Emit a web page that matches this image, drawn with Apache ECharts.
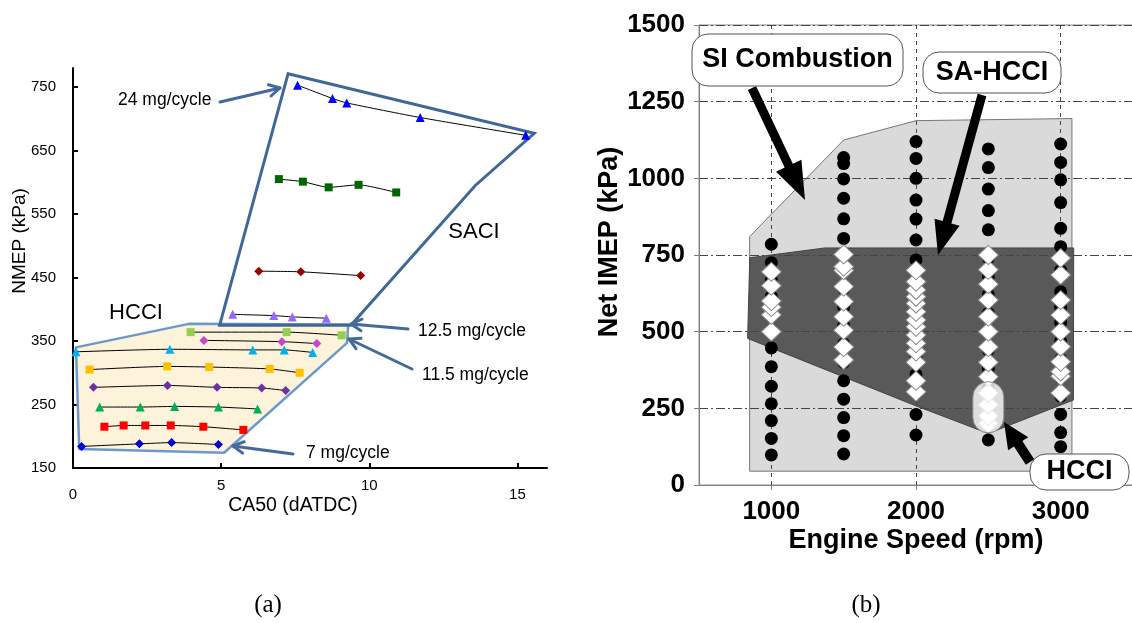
<!DOCTYPE html>
<html>
<head>
<meta charset="utf-8">
<title>NMEP vs CA50 / Net IMEP vs engine speed</title>
<script src="https://cdn.jsdelivr.net/npm/echarts@6.0.0/dist/echarts.min.js"></script>
<style>
  html, body { margin: 0; padding: 0; background: #fff; }
  #chart { width: 1132px; height: 623px; }
</style>
</head>
<body>
<div id="chart"></div>
<script>
// ---- (a) NMEP vs CA50, one trace per fuelling rate ----
const saci24 = [[7.58, 753], [8.76, 732], [9.24, 725], [11.72, 702], [15.28, 674]];
const saciGreen = [[6.95, 605], [7.76, 601], [8.63, 592], [9.64, 596], [10.91, 584]];
const saciRed = [[6.27, 460], [7.69, 459], [9.71, 453]];
const saci125 = [[5.39, 392], [6.78, 390], [7.40, 388], [8.55, 386]];
const hcci115 = [[3.97, 364], [7.21, 364], [9.07, 359]];
const hcciPink = [[4.42, 351], [7.05, 349], [8.23, 346]];
const hcciCyan = [[0.10, 333], [3.27, 337], [6.07, 336], [7.13, 336], [8.09, 332]];
const hcciOrange = [[0.56, 305], [3.18, 310], [4.60, 309], [6.64, 306], [7.65, 300]];
const hcciPurple = [[0.69, 277], [3.19, 280], [4.86, 277], [6.37, 276], [7.18, 272]];
const hcciGreen = [[0.90, 246], [2.27, 246], [3.43, 247], [4.91, 246], [6.23, 243]];
const hcciRed = [[1.06, 215], [1.71, 217], [2.44, 217], [3.30, 217], [4.40, 215], [5.75, 210]];
const hcci7 = [[0.29, 184], [2.24, 188], [3.33, 190], [4.91, 187]];
const saciRegion = [[7.26, 771], [15.57, 677], [13.58, 595], [9.38, 375], [4.95, 375]];
const hcciRegion = [[0.10, 340], [3.91, 377], [9.29, 376], [9.25, 347], [5.10, 174], [0.21, 180]];
const ca50Ticks = [0, 5, 10, 15];
const nmepTicks = [150, 250, 350, 450, 550, 650, 750];

// ---- (b) operating map, Net IMEP vs engine speed ----
const rpmTicks = [1000, 2000, 3000];
const speeds = [1000, 1500, 2000, 2500, 3000];
const siRegion = [[850, 45], [850, 810], [1500, 1125], [2000, 1188], [3078, 1195], [3078, 45]];
const saRegion = [[836, 478], [851, 741], [1370, 773], [3090, 773], [3088, 277], [2500, 168], [2000, 258]];
const hcciSpan = [[2500, 170], [2500, 337]];
const si1000 = [98, 152, 210, 265, 322, 386, 447, 505, 560, 615, 670, 725, 785];
const si1500 = [101, 161, 220, 280, 340, 400, 460, 520, 580, 640, 700, 750, 804, 868, 935, 998, 1048, 1068];
const si2000 = [163, 230, 300, 360, 420, 480, 540, 600, 660, 734, 799, 867, 929, 1000, 1065, 1120];
const si2500 = [147, 200, 260, 320, 380, 440, 500, 560, 620, 680, 740, 832, 895, 965, 1035, 1096];
const si3000 = [125, 171, 230, 290, 350, 410, 470, 530, 580, 630, 700, 777, 837, 921, 995, 1052, 1112];
const sa1000 = [500, 555, 580, 600, 650, 695];
const sa1500 = [408, 450, 505, 549, 598, 647, 700, 712, 752];
const sa2000 = [304, 340, 400, 435, 462, 489, 516, 538, 565, 592, 614, 636, 663, 700];
const sa2500 = [200, 225, 262, 300, 353, 400, 450, 500, 549, 603, 655, 702, 750];
const sa3000 = [300, 355, 370, 402, 451, 500, 554, 603, 685, 740];

const FONT = '"Liberation Sans", Arial, sans-serif';
const chart = echarts.init(document.getElementById('chart'));

const siDots = [si1000, si1500, si2000, si2500, si3000].flatMap((col, i) => col.map(v => [speeds[i], v]));
const saDiamonds = [sa1000, sa1500, sa2000, sa2500, sa3000].flatMap((col, i) => col.map(v => [speeds[i], v]));

function region(idx, pts, style, z) {
  return {
    type: 'custom', xAxisIndex: idx, yAxisIndex: idx, z, silent: true, clip: false,
    data: [pts[0]],
    renderItem: (params, api) => ({
      type: 'polygon',
      shape: { points: pts.map(p => api.coord(p)) },
      style
    })
  };
}

function fuelLine(pts, symbol, color, size) {
  return {
    type: 'line', xAxisIndex: 0, yAxisIndex: 0, data: pts,
    symbol, symbolSize: size, smooth: 0.2,
    lineStyle: { color: '#000', width: 1 },
    itemStyle: { color, opacity: 1 },
    z: 5
  };
}

// open V arrow for panel (a)
function vArrow(x1, y1, x2, y2) {
  const a = Math.atan2(y2 - y1, x2 - x1), L = 12, s = 0.5;
  const st = { stroke: '#44699a', lineWidth: 3, fill: null, lineCap: 'round', lineJoin: 'round' };
  return [
    { type: 'line', z: 10, shape: { x1, y1, x2, y2 }, style: st },
    { type: 'polyline', z: 10, shape: { points: [
      [x2 - L * Math.cos(a - s), y2 - L * Math.sin(a - s)], [x2, y2],
      [x2 - L * Math.cos(a + s), y2 - L * Math.sin(a + s)]] }, style: st }
  ];
}

// filled block arrow for panel (b)
function blockArrow(x1, y1, x2, y2, w, hl, hw) {
  const len = Math.hypot(x2 - x1, y2 - y1), ux = (x2 - x1) / len, uy = (y2 - y1) / len;
  const px = -uy, py = ux, bx = x2 - ux * hl, by = y2 - uy * hl;
  return { type: 'polygon', z: 10, shape: { points: [
    [x1 + px * w, y1 + py * w], [bx + px * w, by + py * w], [bx + px * hw, by + py * hw], [x2, y2],
    [bx - px * hw, by - py * hw], [bx - px * w, by - py * w], [x1 - px * w, y1 - py * w]] },
    style: { fill: '#000' } };
}

function label(text, x, y, size, opts) {
  return Object.assign({ type: 'text', z: 11, x, y, style: {
    text, fontSize: size, fontFamily: FONT, fill: '#000', align: 'center', verticalAlign: 'middle',
    fontWeight: (opts && opts.bold) ? 'bold' : 'normal'
  } }, opts && opts.rotation ? { rotation: opts.rotation } : {});
}

function callout(text, x, y, w, h) {
  return [
    { type: 'rect', z: 11, shape: { x, y, width: w, height: h, r: 16 }, style: { fill: '#fff', stroke: '#555', lineWidth: 1 } },
    { type: 'text', z: 12, x: x + w / 2, y: y + h / 2, style: { text, fontSize: 27, fontWeight: 'bold', fontFamily: FONT, fill: '#000', align: 'center', verticalAlign: 'middle' } }
  ];
}

const leftText = (text, x, y) => ({ type: 'text', z: 11, x, y, style: { text, fontSize: 17.5, fontFamily: FONT, fill: '#000', align: 'left', verticalAlign: 'middle' } });

const graphic = [
  leftText('24 mg/cycle', 118, 100),
  leftText('12.5 mg/cycle', 418, 331),
  leftText('11.5 mg/cycle', 422, 375),
  leftText('7 mg/cycle', 306, 453),
  label('SACI', 474, 232, 22),
  label('HCCI', 136, 313, 22),
  label('NMEP (kPa)', 20, 241, 19, { rotation: Math.PI / 2 }),
  label('CA50 (dATDC)', 293, 506, 19.5),
  ...vArrow(220, 102, 280, 88),
  ...vArrow(408, 329, 351, 324),
  ...vArrow(412, 369, 349, 339),
  ...vArrow(293, 454, 233, 446),
  label('Net IMEP (kPa)', 610, 242, 27, { bold: true, rotation: Math.PI / 2 }),
  label('Engine Speed (rpm)', 916, 541, 27, { bold: true }),
  blockArrow(752, 88, 805, 200, 4.5, 38, 14),
  blockArrow(982, 95, 938, 255, 4.5, 34, 13),
  blockArrow(1030, 462, 1004, 422, 5, 26, 12),
  ...callout('SI Combustion', 692, 34, 211, 52),
  ...callout('SA-HCCI', 923, 52, 138, 41),
  ...callout('HCCI', 1030, 454, 99, 36),
  { type: 'text', z: 11, x: 268, y: 605, style: { text: '(a)', fontSize: 25, fontFamily: '"Liberation Serif", "Times New Roman", serif', fill: '#000', align: 'center', verticalAlign: 'middle' } },
  { type: 'text', z: 11, x: 866, y: 605, style: { text: '(b)', fontSize: 25, fontFamily: '"Liberation Serif", "Times New Roman", serif', fill: '#000', align: 'center', verticalAlign: 'middle' } }
];

chart.setOption({
  animation: false,
  backgroundColor: '#fff',
  grid: [
    { left: 73, top: 68, width: 474, height: 400, outerBoundsMode: 'none' },
    { left: 699, top: 25, width: 434, height: 460, outerBoundsMode: 'none', show: true, borderColor: '#8c8c8c', borderWidth: 1, backgroundColor: 'transparent' }
  ],
  xAxis: [
    {
      gridIndex: 0, type: 'value', min: 0, max: 16,
      axisLine: { show: true, lineStyle: { color: '#000', width: 2 } },
      axisTick: { show: true, inside: true, length: 5, lineStyle: { width: 2, color: '#000' }, customValues: ca50Ticks },
      axisLabel: {
        customValues: ca50Ticks, margin: 10, color: '#000', fontFamily: FONT, fontSize: 15,
        formatter: v => (v === 5 || v === 10) ? '{up|' + v + '}' : '{dn|' + v + '}',
        rich: { up: { fontSize: 15, fontFamily: FONT, color: '#000' }, dn: { fontSize: 15, fontFamily: FONT, color: '#000', padding: [9, 0, 0, 0] } }
      },
      splitLine: { show: false }
    },
    {
      gridIndex: 1, type: 'value', min: 500, max: 3500,
      axisLine: { show: true, lineStyle: { color: '#7f7f7f', width: 1 } },
      axisTick: { show: true, length: 5, lineStyle: { color: '#7f7f7f' }, customValues: rpmTicks },
      axisLabel: { customValues: rpmTicks, margin: 14, color: '#000', fontFamily: FONT, fontSize: 26, fontWeight: 'bold', formatter: v => String(v) },
      splitLine: { show: true, lineStyle: { color: '#444', width: 1, type: [4, 4] } }
    }
  ],
  yAxis: [
    {
      gridIndex: 0, type: 'value', min: 150, max: 780,
      axisLine: { show: true, lineStyle: { color: '#000', width: 2 } },
      axisTick: { show: true, inside: true, length: 5, lineStyle: { width: 2, color: '#000' }, customValues: nmepTicks },
      axisLabel: { customValues: nmepTicks, margin: 17, color: '#000', fontFamily: FONT, fontSize: 15 },
      splitLine: { show: false }
    },
    {
      gridIndex: 1, type: 'value', min: 0, max: 1500, interval: 250,
      axisLine: { show: true, lineStyle: { color: '#7f7f7f', width: 1 } },
      axisTick: { show: true, length: 5, lineStyle: { color: '#7f7f7f' } },
      axisLabel: { margin: 14, color: '#000', fontFamily: FONT, fontSize: 26, fontWeight: 'bold', formatter: v => String(v) },
      splitLine: { show: true, lineStyle: { color: '#444', width: 1, type: [9, 3, 2, 3] } }
    }
  ],
  series: [
    region(0, hcciRegion, { fill: '#fdf3db', stroke: '#6c98cc', lineWidth: 2.5, lineJoin: 'round' }, 1),
    region(0, saciRegion, { fill: 'none', stroke: '#3f6797', lineWidth: 3, lineJoin: 'miter' }, 1),
    fuelLine(saci24, 'triangle', '#0000ff', 9),
    fuelLine(saciGreen, 'rect', '#006600', 8),
    fuelLine(saciRed, 'diamond', '#990000', 9),
    fuelLine(saci125, 'triangle', '#9966ff', 9),
    fuelLine(hcci115, 'rect', '#92d050', 8),
    fuelLine(hcciPink, 'diamond', '#cc44cc', 9),
    fuelLine(hcciCyan, 'triangle', '#00b0f0', 9),
    fuelLine(hcciOrange, 'rect', '#ffc000', 8),
    fuelLine(hcciPurple, 'diamond', '#7030a0', 9),
    fuelLine(hcciGreen, 'triangle', '#00b050', 9),
    fuelLine(hcciRed, 'rect', '#ff0000', 8),
    fuelLine(hcci7, 'diamond', '#0000cc', 9),

    region(1, siRegion, { fill: '#dadada', stroke: '#777', lineWidth: 1 }, -2),
    region(1, saRegion, { fill: '#595959', stroke: '#444', lineWidth: 1 }, -1),
    {
      type: 'scatter', xAxisIndex: 1, yAxisIndex: 1, data: siDots, symbol: 'circle', symbolSize: 13,
      itemStyle: { color: '#000', opacity: 1 }, z: 3
    },
    {
      type: 'scatter', xAxisIndex: 1, yAxisIndex: 1, data: saDiamonds, symbol: 'diamond', symbolSize: [20, 19],
      itemStyle: { color: '#fff', borderColor: '#8a8a8a', borderWidth: 1, opacity: 1 }, z: 4
    },
    {
      type: 'custom', xAxisIndex: 1, yAxisIndex: 1, z: 5, silent: true, clip: false,
      data: [hcciSpan[0]],
      renderItem: (params, api) => {
        const top = api.coord(hcciSpan[1]), bot = api.coord(hcciSpan[0]);
        return {
          type: 'rect',
          shape: { x: top[0] - 15.5, y: top[1], width: 31, height: bot[1] - top[1], r: 15.5 },
          style: { fill: 'rgba(255,255,255,0.8)', stroke: '#8a8a8a', lineWidth: 1 }
        };
      }
    }
  ],
  graphic
});
</script>
</body>
</html>
